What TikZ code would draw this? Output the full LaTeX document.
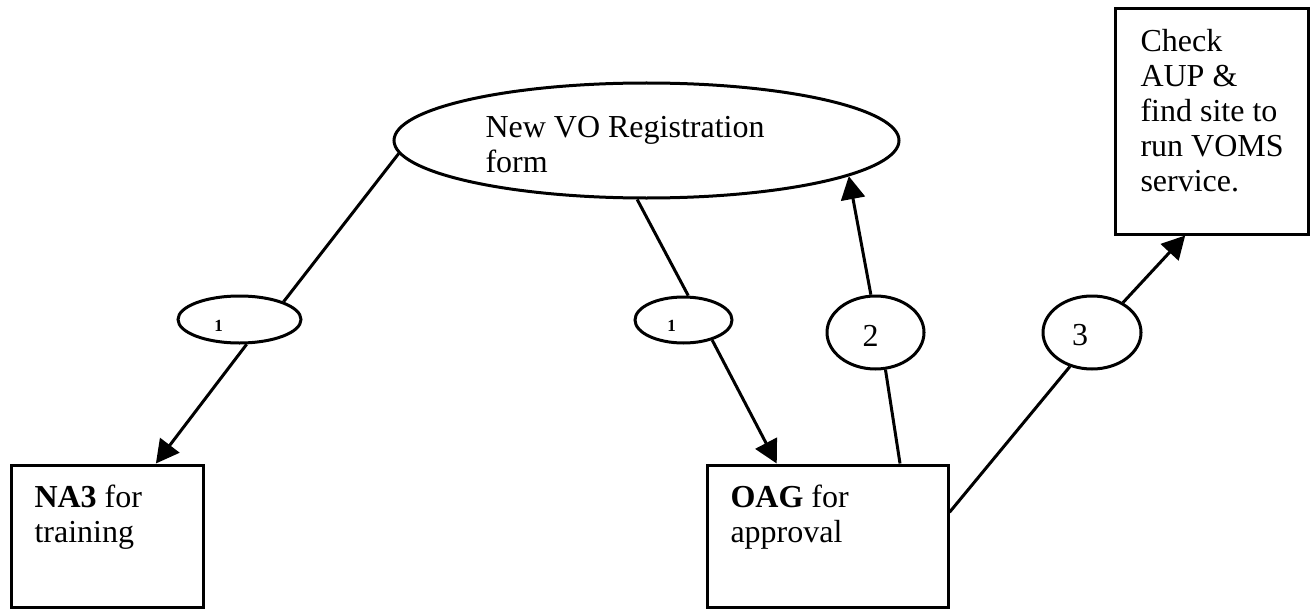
\documentclass[tikz,border=0pt]{standalone}
\usepackage{fontspec}
\setmainfont{Liberation Serif}
\usetikzlibrary{arrows.meta,shapes.geometric}

\begin{document}
\begin{tikzpicture}[
        x=0.5pt, y=-0.5pt,
        >={Triangle[length=11.5pt,width=12pt]},
        line width=1.5pt,
        oval/.style={draw, ellipse, inner sep=0pt},
        box/.style={draw, rectangle, inner sep=0pt},
        txt/.style={inner sep=0pt, align=left, anchor=north west, font=\fontsize{16}{17.5}\selectfont},
        num/.style={font=\fontsize{16}{17.5}\selectfont},
        smallnum/.style={font=\fontsize{8.5}{10}\selectfont\bfseries},
    ]
\useasboundingbox (0,0) rectangle (1316,610);

% ovals
\node[oval, minimum width=252.5pt, minimum height=57.5pt] (reg) at (646.5,140.5) {};
\node[txt] (regtext) at (484,115) {New VO Registration\\form};
\node[oval, minimum width=61.5pt, minimum height=23.5pt, label={[smallnum,xshift=-10.5pt,yshift=-3pt]center:1}] (o1a) at (239.5,319.5) {};
\node[oval, minimum width=48.5pt, minimum height=23pt, label={[smallnum,xshift=-6pt,yshift=-3pt]center:1}] (o1b) at (683.5,320) {};
\node[oval, minimum width=48.5pt, minimum height=36.5pt, label={[num,xshift=-2.5pt,yshift=-1.5pt]center:2}] (o2) at (875.5,332.5) {};
\node[oval, minimum width=49pt, minimum height=36.5pt, label={[num,xshift=-6pt,yshift=-1.5pt]center:3}] (o3) at (1092,332.5) {};

% boxes
\node[box, minimum width=96pt, minimum height=71pt] (na3) at (107,536) {};
\node[box, minimum width=120.5pt, minimum height=71pt] (oag) at (827.5,536) {};
\node[box, minimum width=96.5pt, minimum height=112.5pt] (chk) at (1211.5,121.5) {};
\node[txt] (na3text) at (33,483) {\textbf{NA3} for\\training};
\node[txt] (oagtext) at (729,483) {\textbf{OAG} for\\approval};
\node[txt] (chktext) at (1139,28) {Check\\AUP \&\\find site to\\run VOMS\\service.};

% connectors
\draw (reg.183) -- (o1a.22);
\draw[->] (o1a.286) -- (na3.56);
\draw (reg.261) -- (o1b.79);
\draw[->] (o1b.325) -- (oag.125);
\draw (oag.45) -- (o2.285);
\draw[->] (o2.97) -- (reg.350);
\draw (oag.11) -- (o3.237);
\draw[->] (o3.44) -- (chk.257);

\end{tikzpicture}
\end{document}
